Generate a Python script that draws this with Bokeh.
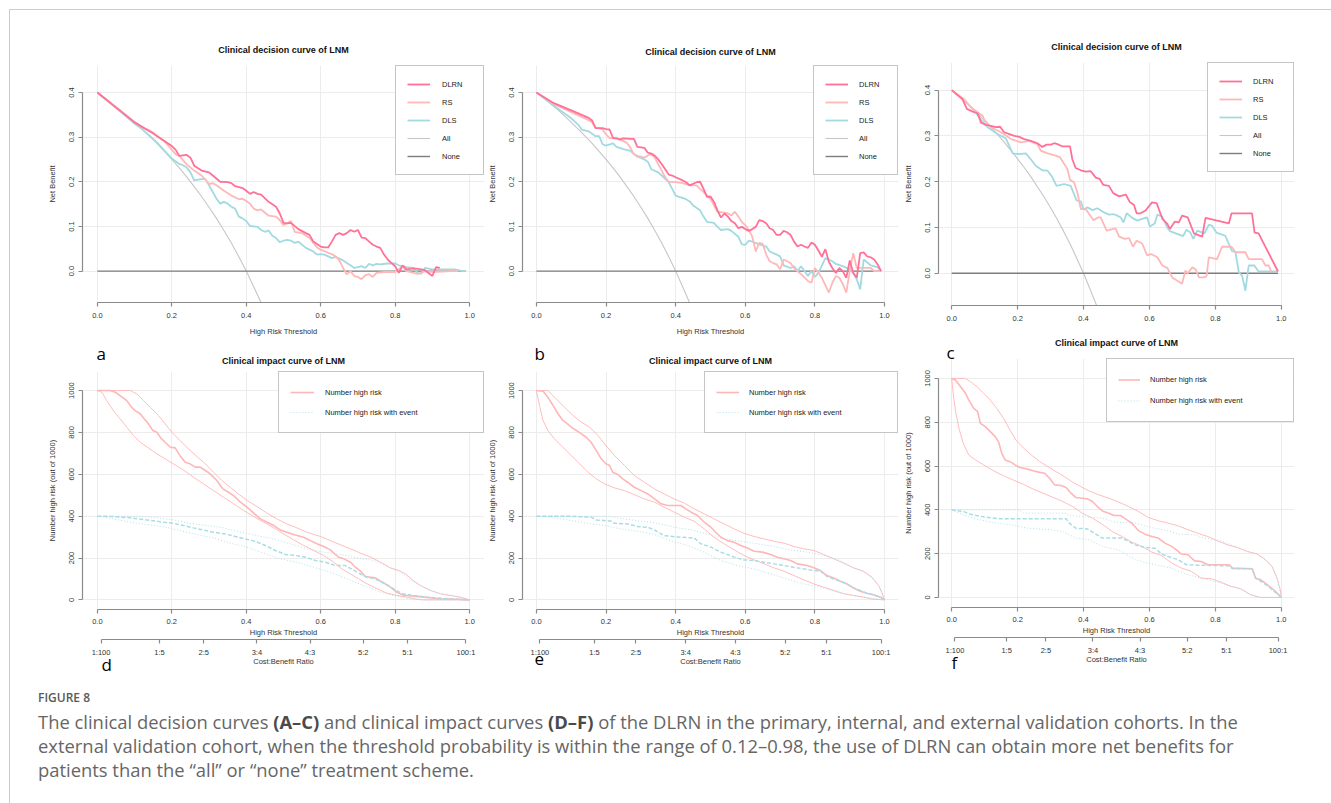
from bokeh.plotting import figure
from bokeh.models import (Range1d, Legend, LegendItem, FixedTicker, LinearAxis, Title,
                          Div, Spacer, NumeralTickFormatter)
from bokeh.layouts import row, column
from bokeh.embed import file_html
from bokeh.resources import INLINE

FONT = "Liberation Sans"
AXC = "#8a8a8a"
GRID = "#ececec"
TXT = "#333333"
COL_DLRN = "#FF7197"
COL_RS = "#FFB8B8"
COL_DLS = "#A2DAE2"
COL_ALL = "#C6C6C6"
COL_NONE = "#7d7d7d"
COL_NHR = "#FFB6B6"
COL_NHRE = "#A9DDE6"

# ---------------- data ----------------
X_TICKS = [0.0, 0.2, 0.4, 0.6, 0.8, 1.0]
NB_TICKS = [0.0, 0.1, 0.2, 0.3, 0.4]
IMP_TICKS = [0, 200, 400, 600, 800, 1000]
CB_LABELS = ["1:100", "1:5", "2:5", "3:4", "4:3", "5:2", "5:1", "100:1"]
CB_POS = [0.0099, 0.1667, 0.2857, 0.4286, 0.5714, 0.7143, 0.8333, 0.9901]

# "All" strategy (same in every cohort, prevalence 0.4)
ALL_T = [0.00, 0.02, 0.04, 0.06, 0.08, 0.10, 0.12, 0.14, 0.16, 0.18, 0.20, 0.22, 0.24,
         0.26, 0.28, 0.30, 0.32, 0.34, 0.36, 0.38, 0.40, 0.42, 0.44]
ALL_NB = [0.400, 0.388, 0.375, 0.362, 0.348, 0.333, 0.318, 0.302, 0.286, 0.268, 0.250,
          0.231, 0.211, 0.189, 0.167, 0.143, 0.118, 0.091, 0.063, 0.032, 0.000, -0.035, -0.071]
NONE_T = [0.0, 0.99]
NONE_NB = [0.0, 0.0]

# Panel a (primary cohort) net benefit: [threshold, net benefit]
A_DLRN = [[0.00,0.400],[0.05,0.366],[0.10,0.333],[0.15,0.308],[0.20,0.280],[0.21,0.272],[0.22,0.258],
          [0.24,0.260],[0.25,0.254],[0.26,0.236],[0.28,0.225],[0.30,0.221],[0.31,0.214],[0.33,0.200],
          [0.35,0.199],[0.36,0.197],[0.37,0.190],[0.39,0.186],[0.40,0.180],[0.41,0.173],[0.42,0.177],
          [0.43,0.173],[0.44,0.171],[0.46,0.155],[0.48,0.144],[0.49,0.129],[0.50,0.108],[0.51,0.107],
          [0.52,0.108],[0.54,0.094],[0.56,0.085],[0.57,0.081],[0.58,0.066],[0.60,0.055],[0.61,0.053],
          [0.62,0.053],[0.63,0.066],[0.64,0.081],[0.65,0.085],[0.66,0.081],[0.67,0.085],[0.68,0.092],
          [0.69,0.088],[0.70,0.092],[0.71,0.075],[0.72,0.074],[0.73,0.066],[0.74,0.059],[0.75,0.055],
          [0.76,0.052],[0.77,0.037],[0.78,0.026],[0.79,0.018],[0.80,0.011],[0.81,-0.004],[0.82,0.013],
          [0.83,0.004],[0.85,0.006],[0.87,0.004],[0.88,0.002],[0.90,-0.011],[0.91,0.009],[0.92,0.007]]
A_RS = [[0.00,0.400],[0.05,0.367],[0.10,0.334],[0.12,0.322],[0.14,0.315],[0.15,0.310],[0.16,0.302],
        [0.18,0.291],[0.20,0.272],[0.21,0.262],[0.22,0.258],[0.24,0.239],[0.26,0.225],[0.28,0.214],
        [0.30,0.195],[0.31,0.197],[0.32,0.192],[0.34,0.180],[0.36,0.169],[0.38,0.161],[0.39,0.162],
        [0.40,0.157],[0.41,0.151],[0.42,0.140],[0.43,0.136],[0.44,0.138],[0.46,0.124],[0.48,0.122],
        [0.49,0.114],[0.50,0.103],[0.51,0.107],[0.52,0.112],[0.53,0.088],[0.55,0.085],[0.57,0.074],
        [0.58,0.063],[0.59,0.053],[0.60,0.048],[0.62,0.041],[0.63,0.038],[0.64,0.033],[0.65,0.024],
        [0.66,0.007],[0.67,-0.007],[0.68,0.000],[0.69,-0.011],[0.70,-0.013],[0.71,-0.018],[0.72,-0.009],
        [0.73,-0.007],[0.74,-0.013],[0.75,-0.004],[0.77,-0.002],[0.80,-0.002],[0.81,0.004],[0.82,0.011],
        [0.83,0.000],[0.85,-0.004],[0.86,-0.006],[0.87,-0.004],[0.88,0.000],[0.90,-0.002],[0.95,0.000],
        [0.97,0.000]]
A_DLS = [[0.00,0.400],[0.05,0.366],[0.10,0.330],[0.12,0.318],[0.14,0.303],[0.16,0.288],[0.18,0.270],
         [0.20,0.252],[0.22,0.240],[0.23,0.237],[0.24,0.232],[0.25,0.221],[0.26,0.203],[0.28,0.206],
         [0.29,0.206],[0.30,0.192],[0.31,0.177],[0.32,0.162],[0.33,0.151],[0.34,0.155],[0.35,0.151],
         [0.36,0.144],[0.37,0.140],[0.38,0.122],[0.39,0.118],[0.40,0.112],[0.41,0.101],[0.43,0.099],
         [0.44,0.092],[0.45,0.088],[0.46,0.091],[0.47,0.079],[0.48,0.074],[0.49,0.065],[0.50,0.068],
         [0.51,0.070],[0.52,0.068],[0.53,0.063],[0.54,0.066],[0.55,0.059],[0.56,0.052],[0.57,0.048],
         [0.58,0.044],[0.59,0.037],[0.60,0.038],[0.61,0.037],[0.62,0.033],[0.63,0.029],[0.64,0.032],
         [0.65,0.028],[0.66,0.024],[0.67,0.018],[0.68,0.013],[0.69,0.007],[0.70,0.009],[0.71,0.011],
         [0.72,0.007],[0.73,0.016],[0.74,0.013],[0.75,0.016],[0.76,0.015],[0.78,0.017],[0.80,0.017],
         [0.81,0.013],[0.83,0.009],[0.85,0.007],[0.86,-0.004],[0.87,-0.006],[0.88,0.007],[0.90,0.004],
         [0.94,0.004],[0.96,0.004],[0.98,0.000],[0.99,0.000]]

# Panel b (internal validation)
B_DLRN = [[0.00,0.400],[0.05,0.376],[0.10,0.360],[0.15,0.343],[0.16,0.337],[0.17,0.320],[0.19,0.320],
          [0.20,0.318],[0.21,0.317],[0.22,0.298],[0.23,0.297],[0.24,0.295],[0.25,0.297],[0.27,0.296],
          [0.28,0.296],[0.29,0.278],[0.31,0.276],[0.32,0.265],[0.33,0.263],[0.34,0.258],[0.35,0.250],
          [0.36,0.239],[0.37,0.228],[0.38,0.216],[0.39,0.214],[0.40,0.210],[0.42,0.203],[0.43,0.199],
          [0.44,0.192],[0.46,0.199],[0.47,0.200],[0.48,0.184],[0.49,0.166],[0.50,0.167],[0.51,0.155],
          [0.52,0.136],[0.53,0.120],[0.54,0.129],[0.55,0.122],[0.56,0.112],[0.57,0.107],[0.58,0.096],
          [0.59,0.099],[0.60,0.094],[0.61,0.090],[0.62,0.094],[0.63,0.099],[0.64,0.114],[0.65,0.112],
          [0.66,0.107],[0.67,0.096],[0.68,0.092],[0.69,0.081],[0.70,0.081],[0.71,0.090],[0.72,0.087],
          [0.73,0.081],[0.74,0.066],[0.75,0.055],[0.76,0.059],[0.77,0.055],[0.78,0.052],[0.79,0.064],
          [0.80,0.059],[0.81,0.046],[0.82,0.032],[0.83,0.049],[0.84,0.021],[0.85,0.007],[0.86,-0.004],
          [0.87,0.007],[0.88,0.000],[0.89,-0.015],[0.90,0.024],[0.91,-0.004],[0.92,-0.015],[0.93,0.040],
          [0.94,0.042],[0.95,0.033],[0.96,0.031],[0.97,0.026],[0.98,0.015],[0.99,0.000]]
B_RS = [[0.00,0.400],[0.05,0.374],[0.10,0.356],[0.15,0.338],[0.16,0.333],[0.17,0.320],[0.18,0.320],
        [0.19,0.317],[0.20,0.306],[0.21,0.298],[0.23,0.297],[0.25,0.291],[0.26,0.287],[0.27,0.276],
        [0.28,0.262],[0.29,0.258],[0.31,0.254],[0.32,0.259],[0.33,0.262],[0.34,0.254],[0.35,0.239],
        [0.36,0.225],[0.37,0.210],[0.38,0.200],[0.40,0.199],[0.42,0.197],[0.44,0.192],[0.46,0.192],
        [0.47,0.184],[0.48,0.177],[0.50,0.162],[0.51,0.147],[0.52,0.133],[0.54,0.131],[0.55,0.129],
        [0.56,0.125],[0.57,0.133],[0.58,0.122],[0.59,0.110],[0.60,0.103],[0.61,0.092],[0.62,0.077],
        [0.63,0.044],[0.64,0.063],[0.65,0.061],[0.66,0.037],[0.67,0.022],[0.68,0.018],[0.69,0.015],
        [0.70,0.004],[0.71,0.026],[0.72,0.022],[0.73,0.018],[0.74,0.007],[0.75,0.000],[0.76,-0.007],
        [0.78,-0.022],[0.79,-0.026],[0.80,0.007],[0.81,-0.004],[0.82,-0.015],[0.84,-0.048],[0.85,-0.026],
        [0.86,-0.011],[0.87,-0.015],[0.88,-0.029],[0.89,-0.048],[0.90,0.000],[0.91,0.040],[0.92,0.007],
        [0.93,0.007],[0.96,0.007],[0.97,0.000],[0.99,0.000]]
B_DLS = [[0.00,0.400],[0.05,0.370],[0.10,0.342],[0.12,0.328],[0.13,0.317],[0.15,0.313],[0.17,0.302],
         [0.18,0.302],[0.19,0.284],[0.20,0.281],[0.22,0.286],[0.23,0.278],[0.25,0.273],[0.27,0.269],
         [0.28,0.262],[0.29,0.256],[0.31,0.250],[0.32,0.245],[0.33,0.228],[0.35,0.221],[0.36,0.214],
         [0.38,0.199],[0.39,0.184],[0.40,0.169],[0.41,0.166],[0.43,0.161],[0.44,0.156],[0.45,0.147],
         [0.47,0.136],[0.48,0.122],[0.49,0.110],[0.51,0.108],[0.52,0.099],[0.53,0.092],[0.55,0.094],
         [0.56,0.090],[0.58,0.077],[0.59,0.060],[0.60,0.059],[0.61,0.068],[0.62,0.066],[0.64,0.060],
         [0.66,0.055],[0.67,0.044],[0.69,0.037],[0.70,0.033],[0.71,0.013],[0.73,0.007],[0.74,0.011],
         [0.75,0.000],[0.76,0.011],[0.78,-0.011],[0.79,0.000],[0.80,-0.013],[0.81,-0.004],[0.83,0.029],
         [0.85,0.022],[0.86,0.016],[0.88,0.011],[0.90,0.004],[0.91,-0.004],[0.92,-0.018],[0.93,-0.041],
         [0.94,0.026],[0.96,0.013],[0.98,0.009],[0.99,0.000]]

# Panel c (external validation)
C_DLRN = [[0.000,0.400],[0.033,0.380],[0.046,0.359],[0.064,0.353],[0.079,0.349],[0.089,0.329],
          [0.104,0.324],[0.119,0.322],[0.134,0.319],[0.147,0.320],[0.159,0.308],[0.175,0.304],
          [0.190,0.300],[0.205,0.298],[0.220,0.293],[0.240,0.289],[0.260,0.284],[0.275,0.276],
          [0.288,0.281],[0.301,0.281],[0.311,0.284],[0.321,0.282],[0.336,0.277],[0.359,0.277],
          [0.366,0.249],[0.376,0.230],[0.392,0.225],[0.407,0.222],[0.422,0.223],[0.437,0.209],
          [0.449,0.206],[0.460,0.193],[0.477,0.191],[0.490,0.175],[0.508,0.168],[0.528,0.172],
          [0.541,0.155],[0.553,0.149],[0.561,0.131],[0.573,0.131],[0.588,0.137],[0.608,0.155],
          [0.622,0.153],[0.639,0.119],[0.654,0.108],[0.662,0.097],[0.677,0.113],[0.689,0.111],
          [0.699,0.126],[0.716,0.122],[0.735,0.087],[0.760,0.080],[0.770,0.121],[0.841,0.109],
          [0.849,0.131],[0.911,0.131],[0.919,0.089],[0.931,0.087],[0.990,0.004]]
C_RS = [[0.000,0.400],[0.038,0.380],[0.059,0.362],[0.094,0.344],[0.099,0.335],[0.119,0.319],
        [0.149,0.308],[0.180,0.293],[0.210,0.286],[0.235,0.289],[0.260,0.282],[0.270,0.268],
        [0.291,0.262],[0.316,0.257],[0.329,0.253],[0.341,0.239],[0.351,0.228],[0.359,0.204],
        [0.371,0.199],[0.381,0.177],[0.392,0.140],[0.407,0.140],[0.430,0.116],[0.444,0.122],
        [0.452,0.122],[0.470,0.093],[0.497,0.098],[0.508,0.080],[0.525,0.075],[0.538,0.077],
        [0.550,0.058],[0.561,0.071],[0.578,0.065],[0.593,0.039],[0.605,0.042],[0.624,0.035],
        [0.639,0.017],[0.654,0.012],[0.669,-0.009],[0.699,-0.023],[0.709,0.006],[0.716,0.000],
        [0.730,0.013],[0.740,0.009],[0.750,-0.009],[0.765,-0.009],[0.773,-0.007],[0.780,0.035],
        [0.805,0.031],[0.820,0.058],[0.849,0.058],[0.861,0.046],[0.891,0.046],[0.901,0.031],
        [0.941,0.031],[0.952,0.017],[0.962,0.017],[0.969,0.004]]
C_DLS = [[0.000,0.400],[0.038,0.377],[0.069,0.355],[0.089,0.335],[0.109,0.319],[0.139,0.304],
         [0.164,0.295],[0.185,0.262],[0.205,0.260],[0.225,0.262],[0.240,0.249],[0.255,0.235],
         [0.275,0.225],[0.291,0.224],[0.306,0.209],[0.318,0.191],[0.341,0.195],[0.361,0.191],
         [0.379,0.159],[0.392,0.157],[0.400,0.139],[0.412,0.144],[0.427,0.138],[0.442,0.142],
         [0.462,0.133],[0.477,0.128],[0.492,0.129],[0.502,0.126],[0.513,0.122],[0.521,0.111],
         [0.531,0.131],[0.548,0.121],[0.563,0.115],[0.578,0.119],[0.593,0.122],[0.601,0.102],
         [0.616,0.109],[0.624,0.128],[0.639,0.124],[0.654,0.100],[0.662,0.092],[0.702,0.081],
         [0.712,0.095],[0.724,0.089],[0.733,0.075],[0.745,0.093],[0.767,0.087],[0.780,0.106],
         [0.790,0.104],[0.803,0.089],[0.830,0.082],[0.850,0.049],[0.861,0.046],[0.871,0.002],
         [0.881,-0.005],[0.891,-0.038],[0.901,0.017],[0.918,0.017],[0.931,0.004],[0.990,0.004]]

# Clinical impact curves: [threshold, number high risk out of 1000]
D_NHR = [[0,1000],[0.034,1000],[0.048,992],[0.061,976],[0.079,952],[0.092,920],[0.101,904],[0.115,889],
         [0.124,869],[0.137,841],[0.149,809],[0.16,801],[0.17,774],[0.182,753],[0.196,729],[0.209,726],
         [0.222,689],[0.236,658],[0.249,650],[0.263,634],[0.276,634],[0.29,618],[0.303,602],[0.321,570],
         [0.337,530],[0.352,514],[0.366,498],[0.384,467],[0.402,443],[0.42,414],[0.438,387],[0.456,371],
         [0.474,355],[0.491,334],[0.509,323],[0.527,312],[0.554,299],[0.572,283],[0.59,268],[0.608,255],
         [0.626,239],[0.639,217],[0.648,204],[0.662,196],[0.68,180],[0.693,156],[0.707,137],[0.72,111],
         [0.734,108],[0.747,105],[0.761,89],[0.774,76],[0.787,61],[0.804,37],[0.819,24],[0.832,21],
         [0.85,18],[0.877,13],[0.904,8],[0.922,5],[0.967,3],[1.0,0]]
D_NHR_HI = [[0,1000],[0.088,1000],[0.106,984],[0.124,952],[0.142,920],[0.164,881],[0.182,841],[0.2,801],
            [0.222,761],[0.245,721],[0.267,685],[0.29,650],[0.312,610],[0.335,570],[0.357,538],[0.379,506],
            [0.402,475],[0.429,446],[0.456,414],[0.482,387],[0.509,363],[0.536,344],[0.563,323],[0.599,303],
            [0.626,283],[0.653,263],[0.68,244],[0.707,223],[0.734,204],[0.761,180],[0.787,153],[0.81,140],
            [0.828,124],[0.846,96],[0.868,68],[0.895,45],[0.922,29],[0.949,21],[0.976,13],[1.0,0]]
D_NHR_LO = [[0,1000],[0.012,992],[0.025,952],[0.043,904],[0.061,865],[0.079,825],[0.097,785],[0.115,753],
            [0.137,726],[0.16,697],[0.182,674],[0.204,650],[0.231,621],[0.258,586],[0.285,554],[0.312,522],
            [0.339,490],[0.366,459],[0.393,427],[0.42,398],[0.447,371],[0.474,344],[0.5,315],[0.527,287],
            [0.554,260],[0.581,236],[0.608,212],[0.635,180],[0.657,148],[0.68,124],[0.702,100],[0.725,76],
            [0.752,53],[0.778,32],[0.805,21],[0.832,13],[0.859,3],[0.877,0],[1.0,0]]
D_NHRE = [[0,400],[0.043,398],[0.088,392],[0.133,382],[0.177,371],[0.204,366],[0.231,355],[0.258,344],
          [0.285,334],[0.312,323],[0.343,315],[0.37,303],[0.397,291],[0.424,280],[0.451,260],[0.478,236],
          [0.505,217],[0.532,212],[0.559,204],[0.586,188],[0.613,180],[0.639,164],[0.666,164],[0.693,137],
          [0.72,111],[0.747,100],[0.774,76],[0.796,53],[0.819,29],[0.85,21],[0.886,13],[0.922,8],[0.967,3],[1.0,0]]
D_NHRE_HI = [[0,400],[0.115,400],[0.16,392],[0.204,382],[0.249,366],[0.294,355],[0.339,344],[0.384,323],
             [0.429,307],[0.474,291],[0.518,268],[0.563,244],[0.608,228],[0.653,217],[0.698,201],[0.743,188],
             [0.787,153],[0.814,132],[0.841,96],[0.868,68],[0.895,45],[0.922,29],[0.958,18],[1.0,0]]
D_NHRE_LO = [[0,400],[0.043,387],[0.088,371],[0.133,360],[0.177,350],[0.222,331],[0.267,312],[0.312,296],
             [0.357,271],[0.402,252],[0.447,223],[0.491,196],[0.536,180],[0.581,156],[0.626,132],[0.671,100],
             [0.716,68],[0.761,37],[0.796,21],[0.832,8],[0.868,0],[1.0,0]]

E_NHR = [[0,1000],[0.019,997],[0.033,968],[0.048,928],[0.062,889],[0.076,857],[0.089,841],[0.1,825],
         [0.115,809],[0.129,793],[0.143,777],[0.157,753],[0.172,713],[0.186,674],[0.2,650],[0.21,642],
         [0.219,610],[0.234,599],[0.248,578],[0.262,562],[0.281,538],[0.301,522],[0.32,506],[0.339,482],
         [0.358,459],[0.377,451],[0.396,451],[0.415,451],[0.429,435],[0.444,419],[0.463,403],[0.482,371],
         [0.501,347],[0.515,323],[0.53,299],[0.549,283],[0.568,275],[0.587,260],[0.606,248],[0.625,232],
         [0.649,228],[0.673,217],[0.692,204],[0.711,196],[0.73,188],[0.749,172],[0.778,164],[0.797,153],
         [0.816,140],[0.835,116],[0.854,105],[0.873,89],[0.892,76],[0.911,57],[0.93,41],[0.949,32],
         [0.968,24],[0.988,13],[1.0,0]]
E_NHR_HI = [[0,1000],[0.033,1000],[0.057,960],[0.081,920],[0.105,881],[0.129,849],[0.153,825],[0.177,785],
            [0.2,737],[0.224,690],[0.253,642],[0.281,594],[0.31,562],[0.339,530],[0.367,506],[0.396,482],
            [0.425,462],[0.453,435],[0.482,411],[0.51,387],[0.539,363],[0.568,339],[0.596,318],[0.625,303],
            [0.654,291],[0.682,280],[0.711,271],[0.74,255],[0.768,244],[0.797,236],[0.825,217],[0.854,196],
            [0.883,175],[0.911,153],[0.94,137],[0.964,108],[0.983,68],[0.992,37],[1.0,0]]
E_NHR_LO = [[0,1000],[0.01,920],[0.019,857],[0.033,809],[0.052,769],[0.076,729],[0.1,690],[0.124,650],
            [0.148,610],[0.172,578],[0.196,554],[0.224,535],[0.253,522],[0.281,503],[0.31,482],[0.339,467],
            [0.367,443],[0.396,419],[0.425,395],[0.453,376],[0.482,339],[0.51,299],[0.539,268],[0.568,239],
            [0.596,212],[0.625,191],[0.654,172],[0.682,153],[0.711,137],[0.74,116],[0.768,96],[0.797,76],
            [0.825,61],[0.854,45],[0.883,29],[0.911,21],[0.94,13],[0.968,3],[1.0,0]]
E_NHRE = [[0,400],[0.081,400],[0.157,395],[0.172,382],[0.215,376],[0.224,366],[0.262,363],[0.291,350],
          [0.32,347],[0.339,334],[0.367,307],[0.415,299],[0.453,296],[0.472,268],[0.501,252],[0.53,228],
          [0.568,204],[0.596,191],[0.625,188],[0.654,180],[0.682,172],[0.711,164],[0.749,153],[0.787,143],
          [0.816,137],[0.835,111],[0.854,100],[0.873,89],[0.892,76],[0.911,57],[0.93,45],[0.949,32],
          [0.968,24],[0.988,13],[1.0,0]]
E_NHRE_HI = [[0,400],[0.205,400],[0.253,387],[0.3,376],[0.348,366],[0.396,347],[0.444,334],[0.491,315],
             [0.539,291],[0.587,280],[0.635,268],[0.682,255],[0.73,239],[0.778,228],[0.825,212],[0.873,188],
             [0.911,153],[0.94,132],[0.964,105],[0.983,68],[0.992,37],[1.0,0]]
E_NHRE_LO = [[0,400],[0.052,392],[0.1,379],[0.148,366],[0.196,355],[0.243,339],[0.291,328],[0.339,312],
             [0.386,283],[0.434,260],[0.482,228],[0.53,188],[0.577,164],[0.625,148],[0.673,124],[0.72,100],
             [0.768,76],[0.816,61],[0.864,37],[0.911,21],[0.959,8],[1.0,0]]

F_NHR = [[0,1000],[0.012,992],[0.027,962],[0.042,932],[0.052,901],[0.067,863],[0.079,848],[0.087,795],
         [0.102,780],[0.117,757],[0.132,734],[0.142,711],[0.152,658],[0.162,628],[0.177,620],[0.192,605],
         [0.207,593],[0.227,587],[0.247,578],[0.267,571],[0.282,567],[0.297,544],[0.312,514],[0.332,511],
         [0.347,502],[0.362,476],[0.377,456],[0.397,453],[0.412,450],[0.427,438],[0.442,415],[0.457,395],
         [0.477,384],[0.492,374],[0.512,374],[0.527,359],[0.547,339],[0.567,304],[0.587,289],[0.607,278],
         [0.627,271],[0.647,248],[0.667,233],[0.682,217],[0.697,198],[0.717,195],[0.737,167],[0.757,164],
         [0.777,149],[0.842,149],[0.852,134],[0.912,131],[0.922,88],[0.937,81],[0.957,58],[0.977,35],[1.0,0]]
F_NHR_HI = [[0,1000],[0.042,1000],[0.057,985],[0.077,962],[0.097,932],[0.117,901],[0.137,863],[0.157,818],
            [0.177,764],[0.197,714],[0.217,684],[0.242,650],[0.267,620],[0.292,597],[0.317,574],[0.342,552],
            [0.367,526],[0.392,506],[0.417,486],[0.447,468],[0.477,453],[0.507,435],[0.537,415],[0.567,392],
            [0.597,365],[0.627,350],[0.657,339],[0.687,327],[0.717,309],[0.747,293],[0.777,278],[0.807,258],
            [0.837,240],[0.867,228],[0.897,210],[0.927,198],[0.952,172],[0.972,141],[0.987,88],[0.997,35],[1.0,0]]
F_NHR_LO = [[0,1000],[0.005,924],[0.012,848],[0.022,772],[0.035,704],[0.052,650],[0.072,628],[0.097,605],
            [0.127,578],[0.157,556],[0.187,536],[0.217,517],[0.247,495],[0.277,476],[0.307,457],[0.337,438],
            [0.367,415],[0.397,384],[0.427,362],[0.457,334],[0.487,301],[0.517,278],[0.547,252],[0.577,233],
            [0.607,207],[0.637,191],[0.667,157],[0.697,134],[0.727,119],[0.757,88],[0.787,85],[0.817,70],
            [0.847,50],[0.877,40],[0.907,12],[0.937,0],[1.0,0]]
F_NHRE = [[0,400],[0.037,392],[0.057,380],[0.092,369],[0.147,359],[0.207,359],[0.347,359],[0.357,339],
          [0.377,316],[0.412,313],[0.437,289],[0.457,271],[0.517,271],[0.557,240],[0.587,228],[0.617,225],
          [0.637,198],[0.657,187],[0.687,172],[0.712,149],[0.842,144],[0.852,131],[0.912,131],[0.922,88],
          [0.957,55],[1.0,0]]
F_NHRE_HI = [[0,400],[0.202,400],[0.217,385],[0.347,385],[0.357,374],[0.457,362],[0.497,343],[0.557,339],
             [0.607,319],[0.657,304],[0.687,289],[0.737,286],[0.757,274],[0.817,258],[0.867,228],[0.897,210],
             [0.927,198],[0.952,172],[0.972,141],[0.987,88],[1.0,0]]
F_NHRE_LO = [[0,400],[0.022,385],[0.062,362],[0.122,343],[0.182,331],[0.232,316],[0.302,309],[0.337,301],
             [0.377,271],[0.417,263],[0.457,233],[0.507,217],[0.557,172],[0.617,149],[0.667,134],[0.717,103],
             [0.767,85],[0.817,65],[0.867,43],[0.907,12],[0.937,0],[1.0,0]]


def xs(pts):
    return [p[0] for p in pts]


def ys(pts):
    return [p[1] for p in pts]


def style_axis(ax):
    ax.axis_line_color = AXC
    ax.axis_line_width = 1.2
    ax.major_tick_line_color = AXC
    ax.major_tick_line_width = 1.2
    ax.major_tick_in = 0
    ax.major_tick_out = 4
    ax.minor_tick_line_color = None
    ax.major_label_text_font = FONT
    ax.major_label_text_font_size = "7.5px"
    ax.major_label_text_color = TXT
    ax.axis_label_text_font = FONT
    ax.axis_label_text_font_size = "7.5px"
    ax.axis_label_text_font_style = "normal"
    ax.axis_label_text_color = TXT


def style_title(t, standoff):
    t.align = "center"
    t.text_font = FONT
    t.text_font_size = "9px"
    t.text_font_style = "bold"
    t.text_color = "#111111"
    t.standoff = standoff


def style_letter(t, txt, offset, standoff, valign="bottom"):
    t.text = txt
    t.align = "left"
    t.offset = offset
    t.standoff = standoff
    t.vertical_align = valign
    t.text_font = "Open Sans"
    t.text_font_size = "17px"
    t.text_font_style = "normal"
    t.text_color = "#000000"


def base_fig(w, h, bl, br, bt, bb, yr, title, tstand):
    p = figure(width=w, height=h, x_range=Range1d(-0.04, 1.04), y_range=yr,
               output_backend="svg", toolbar_location=None,
               min_border_left=bl, min_border_right=br, min_border_top=bt, min_border_bottom=bb)
    p.outline_line_color = None
    p.background_fill_color = "white"
    p.border_fill_color = "white"
    p.title.text = title
    style_title(p.title, tstand)
    p.grid.grid_line_color = GRID
    p.grid.grid_line_width = 1
    p.xaxis.ticker = FixedTicker(ticks=X_TICKS)
    p.xaxis.formatter = NumeralTickFormatter(format="0.0")
    p.xaxis.bounds = (0, 1)
    style_axis(p.xaxis[0])
    style_axis(p.yaxis[0])
    p.yaxis.major_label_orientation = "vertical"
    return p


def make_legend(p, items, pad, gw, gh, sp, stand, lw):
    lg = Legend(items=items, location="top_right", margin=0, padding=pad, spacing=sp,
                glyph_width=gw, glyph_height=gh, label_height=gh, label_width=lw,
                label_standoff=stand, border_line_color="#8c8c8c", border_line_width=1,
                background_fill_color="white", background_fill_alpha=1.0,
                label_text_font=FONT, label_text_font_size="7.5px", label_text_color="#222222")
    p.add_layout(lg)


def decision_fig(w, h, bl, br, bt, bb, tstand, dlrn, rs, dls, leg, xlabel=True):
    p = base_fig(w, h, bl, br, bt, bb, Range1d(-0.0703, 0.4603), "Clinical decision curve of LNM", tstand)
    p.yaxis.ticker = FixedTicker(ticks=NB_TICKS)
    p.yaxis.formatter = NumeralTickFormatter(format="0.0")
    p.yaxis.bounds = (0, 0.4)
    p.yaxis.axis_label = "Net Benefit"
    p.yaxis.major_label_standoff = 4
    p.yaxis.axis_label_standoff = 10
    p.xaxis.major_label_standoff = 6
    p.xaxis.axis_label_standoff = 6
    p.xaxis.axis_label = "High Risk Threshold" if xlabel else None
    r_all = p.line(ALL_T, ALL_NB, line_color=COL_ALL, line_width=1.1)
    r_none = p.line(NONE_T, NONE_NB, line_color=COL_NONE, line_width=1.4)
    r_dls = p.line(xs(dls), ys(dls), line_color=COL_DLS, line_width=1.8)
    r_rs = p.line(xs(rs), ys(rs), line_color=COL_RS, line_width=1.8)
    r_dlrn = p.line(xs(dlrn), ys(dlrn), line_color=COL_DLRN, line_width=1.8)
    items = [LegendItem(label="DLRN", renderers=[r_dlrn]), LegendItem(label="RS", renderers=[r_rs]),
             LegendItem(label="DLS", renderers=[r_dls]), LegendItem(label="All", renderers=[r_all]),
             LegendItem(label="None", renderers=[r_none])]
    make_legend(p, items, *leg)
    return p


def impact_fig(w, h, bl, br, bt, bb, tstand, nhr, nhr_hi, nhr_lo, nhre, nhre_hi, nhre_lo, leg):
    p = base_fig(w, h, bl, br, bt, bb, Range1d(-46, 1091), "Clinical impact curve of LNM", tstand)
    p.yaxis.ticker = FixedTicker(ticks=IMP_TICKS)
    p.yaxis.bounds = (0, 1000)
    p.yaxis.axis_label = "Number high risk (out of 1000)"
    p.yaxis.major_label_standoff = 4
    p.yaxis.axis_label_standoff = 10
    p.xaxis.axis_label = "High Risk Threshold"
    p.xaxis.major_label_standoff = 5
    p.xaxis.axis_label_standoff = 1
    p.line(xs(nhr_hi), ys(nhr_hi), line_color=COL_NHR, line_width=0.9)
    p.line(xs(nhr_lo), ys(nhr_lo), line_color=COL_NHR, line_width=0.9)
    r_nhr = p.line(xs(nhr), ys(nhr), line_color=COL_NHR, line_width=1.6)
    r_e_hi = p.line(xs(nhre_hi), ys(nhre_hi), line_color=COL_NHRE, line_width=0.9, line_dash="1 2")
    p.line(xs(nhre_lo), ys(nhre_lo), line_color=COL_NHRE, line_width=0.9, line_dash="1 2")
    p.line(xs(nhre), ys(nhre), line_color=COL_NHRE, line_width=1.5, line_dash="4 2")
    ax2 = LinearAxis(ticker=FixedTicker(ticks=CB_POS),
                     major_label_overrides={pos: lab for pos, lab in zip(CB_POS, CB_LABELS)},
                     axis_label="Cost:Benefit Ratio", bounds=(CB_POS[0], CB_POS[-1]))
    style_axis(ax2)
    ax2.major_label_standoff = 4
    ax2.axis_label_standoff = -3
    p.add_layout(ax2, "below")
    items = [LegendItem(label="Number high risk", renderers=[r_nhr]),
             LegendItem(label="Number high risk with event", renderers=[r_e_hi])]
    make_legend(p, items, *leg)
    return p


def letter_below(p, txt, offset):
    t = Title()
    style_letter(t, txt, offset, -32, valign="top")
    p.add_layout(t, "below")


def letter_above_outer(p, txt, offset, title_standoff, letter_standoff):
    # the plot's own title is drawn outermost: it carries the panel letter,
    # and the chart title sits nearest to the frame
    lnm = Title(text=p.title.text)
    style_title(lnm, title_standoff)
    p.add_layout(lnm, "above")
    style_letter(p.title, txt, offset, letter_standoff)


# legend configs: padding, glyph width, glyph height, spacing, standoff, label width
pa = decision_fig(474, 328, 72, 0, 55, 33, 22, A_DLRN, A_RS, A_DLS, (11, 23, 14, 4, 12, 30))
pb = decision_fig(416, 328, 37, 0, 55, 33, 18, B_DLRN, B_RS, B_DLS, (11, 23, 14, 4, 11, 27))
pc = decision_fig(431, 328, 38, 37, 52, 33, 22, C_DLRN, C_RS, C_DLS, (11, 23, 14, 4, 11, 29), xlabel=False)

pd = impact_fig(474, 339, 72, 0, 33, 68, 14, D_NHR, D_NHR_HI, D_NHR_LO, D_NHRE, D_NHRE_HI, D_NHRE_LO,
                (11, 24, 18, 2, 11, 147))
pe = impact_fig(416, 339, 37, 2, 33, 68, 14, E_NHR, E_NHR_HI, E_NHR_LO, E_NHRE, E_NHRE_HI, E_NHRE_LO,
                (11, 23, 18, 2, 10, 137))
pf = impact_fig(431, 339, 34, 37, 20, 70, -9, F_NHR, F_NHR_HI, F_NHR_LO, F_NHRE, F_NHRE_HI, F_NHRE_LO,
                (11, 22, 19, 2, 10, 132))

letter_above_outer(pd, "a", 14, 12, -34)
letter_above_outer(pe, "b", 12, 12, -34)
c_letter = Title()
style_letter(c_letter, "c", 8, -10)
pf.add_layout(c_letter, "above")
letter_below(pd, "d", 19)
letter_below(pe, "e", 12)
letter_below(pf, "f", 13)

caption = Div(
    text=(
        '<div style="font-family:\'Open Sans\',sans-serif;color:#666666;padding:9px 0 0 28px;">'
        '<div style="font-size:12px;line-height:24px;font-weight:600;color:#5a5a5a;">FIGURE 8</div>'
        '<div style="font-size:18.4px;line-height:24px;white-space:nowrap;">'
        'The clinical decision curves <b style="color:#4a4a4a">(A–C)</b> and clinical impact curves '
        '<b style="color:#4a4a4a">(D–F)</b> of the DLRN in the primary, internal, and external validation cohorts. In the<br>'
        'external validation cohort, when the threshold probability is within the range of 0.12–0.98, '
        'the use of DLRN can obtain more net benefits for<br>'
        'patients than the “all” or “none” treatment scheme.</div></div>'
    ),
    width=1310, height=126, margin=(0, 0, 0, 0))

hline = Spacer(width=1321, height=1, margin=(0, 0, 0, 0), styles={"background-color": "#cccccc"})
vline = Spacer(width=1, height=794, margin=(0, 0, 0, 0), styles={"background-color": "#cccccc"})

panels = row(column(pa, pd, spacing=0), column(pb, pe, spacing=0), column(pc, pf, spacing=0), spacing=0)
content = column(panels, caption, spacing=0)
inner = column(hline, content, spacing=0)
body = row(vline, inner, spacing=0)
root = column(Spacer(width=1331, height=9, margin=(0, 0, 0, 0)),
              row(Spacer(width=9, height=794, margin=(0, 0, 0, 0)), body, spacing=0), spacing=0)

open("out.html", "w").write(file_html(root, INLINE))
